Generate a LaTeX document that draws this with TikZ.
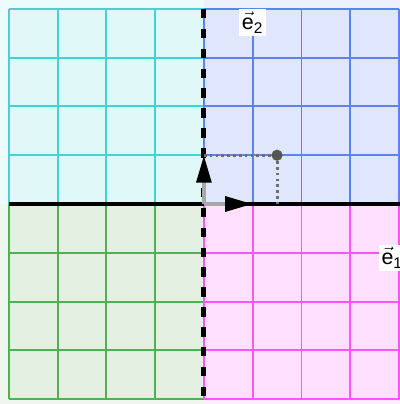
\documentclass[tikz,border=0pt]{standalone}
\usepackage{fontspec}
\newfontfamily\hv{Liberation Sans}
\usetikzlibrary{arrows.meta}
\definecolor{cyfill}{HTML}{E0F8F8}
\definecolor{cyline}{HTML}{45D2D2}
\definecolor{blfill}{HTML}{E0E6FC}
\definecolor{blline}{HTML}{5A84F0}
\definecolor{grfill}{HTML}{E4F0E2}
\definecolor{grline}{HTML}{50B054}
\definecolor{pkfill}{HTML}{FFE0FF}
\definecolor{pkline}{HTML}{FF55FF}
\definecolor{vecgray}{HTML}{A8A8A8}
\definecolor{ptgray}{HTML}{555555}
\tikzset{
  gridline/.style={line width=1.1pt},
  vecshaft/.style={line width=2.4pt, vecgray, -{Triangle[length=16pt,width=8.5pt,color=black]}},
  guide/.style={line width=1.8pt, ptgray!85, dash pattern=on 1.6pt off 1.8pt},
  lab/.style={fill=white, inner sep=1.5pt, font=\fontsize{12.5}{14}\selectfont}
}
\begin{document}
\begin{tikzpicture}
\useasboundingbox (-4.18,-4.1) rectangle (4.02,4.182);
% margin tints
\fill[cyfill!60] (-4.18,0) rectangle (0,4.182);
\fill[blfill!60] (0,0) rectangle (4.02,4.182);
\fill[grfill!60] (-4.18,-4.1) rectangle (0,0);
\fill[pkfill!60] (0,-4.1) rectangle (4.02,0);
% quadrant fills
\fill[cyfill] (-4,0) rectangle (0,4);
\fill[blfill] (0,0) rectangle (4,4);
\fill[grfill] (-4,-4) rectangle (0,0);
\fill[pkfill] (0,-4) rectangle (4,0);
% grids
\draw[gridline, cyline] (-4,0) grid (0,4);
\draw[gridline, blline] (0,0) grid (4,4);
\draw[gridline, grline] (-4,-4) grid (0,0);
\draw[gridline, pkline] (0,-4) grid (4,0);
% axes
\coordinate (O) at (0,0);
\coordinate (xl) at (-4,0);
\coordinate (xr) at (4.02,0);
\coordinate (yt) at (0,4);
\coordinate (yb) at (0,-4);
\draw[line width=2.4pt, black] (xl) -- (xr);
\draw[line width=2.9pt, black, dash pattern=on 5.5pt off 6.1pt] (yt) -- (yb);
% guides to point
\coordinate (P) at (1.5,1);
\coordinate (Py) at (0,1);
\coordinate (Px) at (1.5,0);
\draw[guide] (Py) -- (P);
\draw[guide] (P) -- (Px);
% basis vectors
\coordinate (E1) at (1,0);
\coordinate (E2) at (0,1);
\draw[vecshaft] (O) -- (E1);
\draw[vecshaft] (O) -- (E2);
\fill[ptgray] (P) circle (0.115);
% labels
\node[lab] (l2) at (1.0,3.72) {$\vec{\hbox{\hv e}}_{\hbox{\hv\fontsize{9}{10}\selectfont 2}}$};
\node[lab] (l1) at (3.86,-1.1) {$\vec{\hbox{\hv e}}_{\hbox{\hv\fontsize{9}{10}\selectfont 1}}$};
\end{tikzpicture}
\end{document}
